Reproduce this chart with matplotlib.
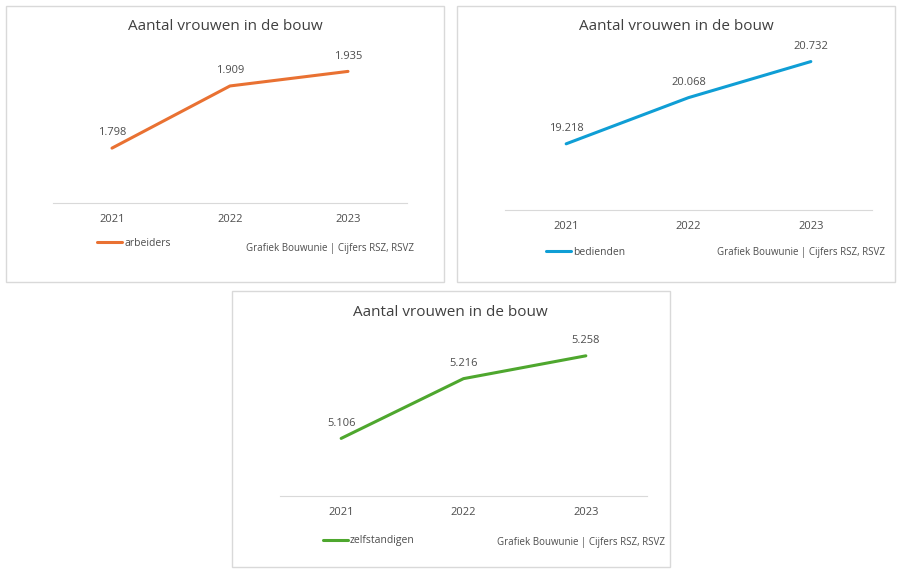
import matplotlib
matplotlib.use("Agg")
import matplotlib.pyplot as plt
from matplotlib.patches import Rectangle

plt.rcParams['font.family'] = ['Open Sans', 'DejaVu Sans']

jaren = ["2021", "2022", "2023"]
arbeiders = [1798, 1909, 1935]
bedienden = [19218, 20068, 20732]
zelfstandigen = [5106, 5216, 5258]

titel = "Aantal vrouwen in de bouw"
bron = "Grafiek Bouwunie | Cijfers RSZ, RSVZ"

W, H = 900, 572
GRIJS = "#4d4d4d"

fig = plt.figure(figsize=(W / 100, H / 100), dpi=100)
fig.patch.set_facecolor("white")


def fx(px):
    return px / W


def fy(py):
    return 1 - py / H


def paneel(box, plot, ylim, waarden, naam, kleur, titel_xy, legend_xy, bron_xy):
    # kader rond de grafiek
    x0, y0, x1, y1 = box
    fig.patches.append(Rectangle((fx(x0), fy(y1)), fx(x1 - x0), (y1 - y0) / H,
                                 transform=fig.transFigure, fill=False,
                                 edgecolor="#d9d9d9", linewidth=1))
    l, t, r, b = plot
    ax = fig.add_axes([fx(l), fy(b), fx(r - l), (b - t) / H])
    x = list(range(len(jaren)))
    ax.plot(x, waarden, color=kleur, linewidth=2.2, solid_capstyle="round",
            label=naam)
    for xi, v in zip(x, waarden):
        ax.annotate(f"{v:,}".replace(",", "."), (xi, v), xytext=(0, 11),
                    textcoords="offset points", ha="center", va="center",
                    fontsize=8, color=GRIJS)
    ax.set_xlim(-0.5, 2.5)
    ax.set_ylim(*ylim)
    ax.set_xticks(x)
    ax.set_xticklabels(jaren, fontsize=8, color=GRIJS)
    ax.tick_params(axis="x", length=0, pad=8)
    ax.set_yticks([])
    for s in ["top", "left", "right"]:
        ax.spines[s].set_visible(False)
    ax.spines["bottom"].set_color("#d9d9d9")
    ax.patch.set_alpha(0)
    fig.text(fx(titel_xy[0]), fy(titel_xy[1]), titel, ha="center", va="center",
             fontsize=11, color="#404040")
    ax.legend(loc="center left", bbox_to_anchor=(fx(legend_xy[0]), fy(legend_xy[1])),
              bbox_transform=fig.transFigure, frameon=False, fontsize=7.5,
              handlelength=2.4, handletextpad=0.2, borderpad=0, borderaxespad=0,
              labelcolor=GRIJS)
    fig.text(fx(bron_xy[0]), fy(bron_xy[1]), bron, ha="right", va="center",
             fontsize=7, color=GRIJS)
    return ax


paneel((6, 6, 444, 282), (53, 35, 407, 203), (1700, 2000), arbeiders,
       "arbeiders", "#E97132", (225, 27), (97, 243), (414, 248))
paneel((457, 6, 895, 282), (505, 47, 872, 210), (18000, 21000), bedienden,
       "bedienden", "#0F9ED5", (676, 27), (546, 252), (885, 253))
paneel((232, 291, 670, 567), (280, 333, 647, 496), (5000, 5300), zelfstandigen,
       "zelfstandigen", "#4EA72E", (450, 312), (323, 541), (665, 542))

fig.savefig("out.png", dpi=100, facecolor="white")
